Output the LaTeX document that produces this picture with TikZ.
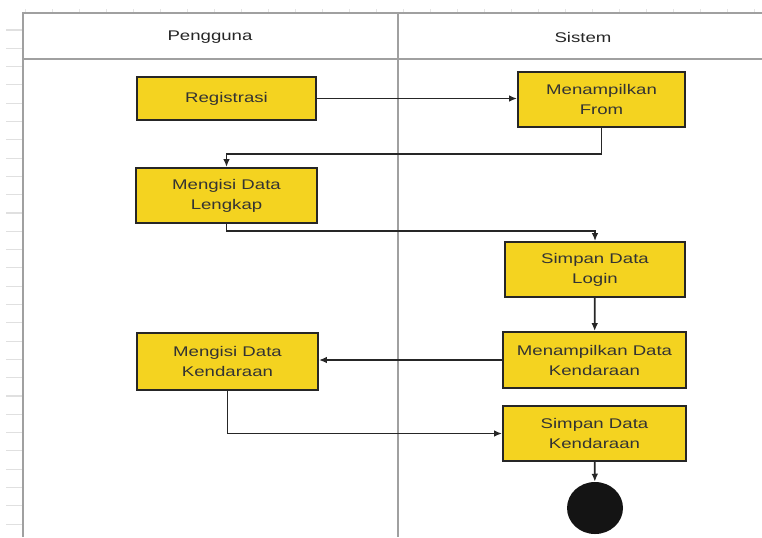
\documentclass[tikz,border=0pt]{standalone}
\usepackage{fontspec}
\setmainfont{Liberation Sans}[FakeStretch=1.33]
\usetikzlibrary{arrows.meta, shapes.geometric}
\definecolor{kuning}{HTML}{F4D320}
\definecolor{garis}{HTML}{262626}
\definecolor{lajur}{HTML}{A0A0A0}

\begin{document}
\begin{tikzpicture}[x=0.75pt, y=-0.75pt,
    aksi/.style={draw=garis, line width=1.4pt, fill=kuning, text=black!80, align=center,
        inner sep=0pt, font=\fontsize{10.5}{15}\selectfont},
    alur/.style={draw=garis, line width=1.3pt, -{Latex[length=6pt,width=5pt]}}]
    \useasboundingbox (0,0) rectangle (762,537);
    % mistar
    \foreach \y in {30,48.3,...,530} \draw[black!12, line width=0.8pt] (6,\y) -- (22,\y);
    \foreach \x in {25,52,...,762} \draw[black!10, line width=0.6pt] (\x,9) -- (\x,13);
    % lajur
    \draw[lajur, line width=0.9pt] (23,537) -- (23,13) -- (762,13) (23,59) -- (762,59) (398,13) -- (398,537);
    \node[font=\fontsize{10.5}{13}\selectfont, text=black!85] (pengguna) at (210,37) {Pengguna};
    \node[font=\fontsize{10.5}{13}\selectfont, text=black!85] (sistem) at (583,37) {Sistem};
    % aktivitas
    \node[aksi, minimum width=134.25pt, minimum height=32.25pt] (reg) at (226.5,98.5) {Registrasi};
    \node[aksi, minimum width=125.25pt, minimum height=41.25pt] (tampilForm) at (601.5,99.5) {Menampilkan\\From};
    \node[aksi, minimum width=135.75pt, minimum height=41.25pt] (isiLengkap) at (226.5,195.5) {Mengisi Data\\Lengkap};
    \node[aksi, minimum width=135pt, minimum height=41.25pt] (simpanLogin) at (595,269.5) {Simpan Data\\Login};
    \node[aksi, minimum width=137.25pt, minimum height=42pt] (tampilKend) at (594.5,360) {Menampilkan Data\\Kendaraan};
    \node[aksi, minimum width=135.75pt, minimum height=42.75pt] (isiKend) at (227.5,361.5) {Mengisi Data\\Kendaraan};
    \node[aksi, minimum width=137.25pt, minimum height=41.25pt] (simpanKend) at (594.5,433.5) {Simpan Data\\Kendaraan};
    \node[ellipse, fill=black!92, minimum width=42pt, minimum height=39pt, inner sep=0pt] (akhir) at (595,508) {};
    % alur
    \draw[alur] (reg.east) -- (reg.east -| tampilForm.west);
    \draw[alur] (tampilForm.south) -- ++(0,26) -| (isiLengkap.north);
    \draw[alur] (isiLengkap.south) -- ++(0,7) -| (simpanLogin.north);
    \draw[alur] (simpanLogin) -- (tampilKend);
    \draw[alur] (tampilKend.west) -- (tampilKend.west -| isiKend.east);
    \draw[alur] (isiKend.south) |- (simpanKend.west);
    \draw[alur] (simpanKend) -- (akhir);
\end{tikzpicture}
\end{document}
